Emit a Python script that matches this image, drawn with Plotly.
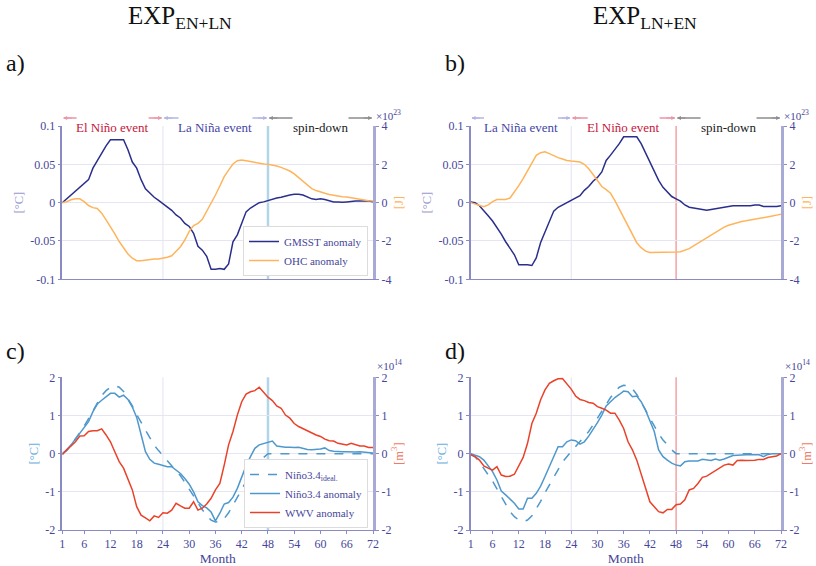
import plotly.graph_objects as go

months = list(range(1, 73))

gmsst_a = [0.0, 0.005, 0.01, 0.015, 0.02, 0.025, 0.03, 0.045, 0.055, 0.064, 0.074, 0.082,
           0.082, 0.082, 0.082, 0.069, 0.053, 0.045, 0.03, 0.018, 0.012, 0.007, 0.003, -0.001,
           -0.005, -0.01, -0.016, -0.02, -0.027, -0.031, -0.04, -0.057, -0.062, -0.07, -0.087, -0.087,
           -0.086, -0.087, -0.08, -0.051, -0.042, -0.027, -0.012, -0.007, -0.003, 0.0, 0.001, 0.003,
           0.004, 0.006, 0.007, 0.009, 0.01, 0.011, 0.011, 0.01, 0.007, 0.005, 0.004, 0.005,
           0.004, 0.003, 0.001, 0.001, 0.0005, 0.001, 0.002, 0.002, 0.002, 0.002, 0.002, 0.001]

ohc_a = [0.0, 0.05, 0.15, 0.2, 0.2, 0.05, -0.15, -0.26, -0.3, -0.55, -0.9, -1.25,
         -1.63, -2.03, -2.38, -2.68, -2.9, -3.03, -3.03, -3.0, -2.96, -2.94, -2.94, -2.9,
         -2.85, -2.77, -2.56, -2.3, -1.95, -1.5, -1.2, -1.08, -0.87, -0.47, -0.03, 0.4,
         0.87, 1.36, 1.7, 2.02, 2.19, 2.23, 2.19, 2.14, 2.09, 2.05, 2.02, 2.0,
         1.97, 1.91, 1.84, 1.76, 1.65, 1.5, 1.3, 1.13, 0.92, 0.73, 0.63, 0.54,
         0.49, 0.43, 0.38, 0.35, 0.31, 0.3, 0.26, 0.23, 0.17, 0.14, 0.1, 0.09]

gmsst_b = [0.001, 0.0, -0.004, -0.01, -0.017, -0.024, -0.032, -0.041, -0.051, -0.059, -0.068, -0.081,
           -0.081, -0.081, -0.082, -0.072, -0.052, -0.039, -0.024, -0.011, -0.006, -0.003, 0.0, 0.004,
           0.006, 0.009, 0.016, 0.021, 0.028, 0.033, 0.04, 0.055, 0.062, 0.069, 0.077, 0.086,
           0.086, 0.086, 0.086, 0.077, 0.065, 0.053, 0.042, 0.029, 0.02, 0.014, 0.008, 0.005,
           0.002, -0.003, -0.006, -0.007, -0.008, -0.009, -0.01, -0.009, -0.008, -0.007, -0.006, -0.005,
           -0.004, -0.004, -0.004, -0.004, -0.004, -0.003, -0.003, -0.005, -0.005, -0.005, -0.005, -0.004]

ohc_b = [0.0, -0.07, -0.16, -0.21, -0.12, 0.05, 0.16, 0.17, 0.17, 0.24, 0.54, 0.89,
         1.25, 1.68, 2.12, 2.47, 2.61, 2.65, 2.56, 2.44, 2.35, 2.28, 2.2, 2.17,
         2.16, 2.12, 2.0, 1.77, 1.47, 1.16, 0.84, 0.68, 0.49, 0.1, -0.33, -0.77,
         -1.21, -1.68, -2.09, -2.35, -2.53, -2.6, -2.6, -2.6, -2.6, -2.6, -2.6, -2.58,
         -2.56, -2.5, -2.4, -2.26, -2.12, -1.98, -1.82, -1.68, -1.54, -1.4, -1.28, -1.18,
         -1.1, -1.04, -0.98, -0.95, -0.91, -0.88, -0.84, -0.81, -0.75, -0.7, -0.65, -0.6]

nino_ideal_c = [0.0, 0.08, 0.22, 0.38, 0.55, 0.72, 0.92, 1.12, 1.35, 1.52, 1.65, 1.74,
                1.78, 1.74, 1.63, 1.45, 1.25, 1.02, 0.82, 0.6, 0.4, 0.22, 0.08, -0.05,
                -0.18, -0.32, -0.45, -0.58, -0.75, -0.93, -1.12, -1.3, -1.47, -1.62, -1.74, -1.79,
                -1.78, -1.7, -1.55, -1.35, -1.15, -0.93, -0.72, -0.52, -0.36, -0.22, -0.1, 0.0,
                0.0, 0.0, 0.0, 0.0, 0.0, 0.0, 0.0, 0.0, 0.0, 0.0, 0.0, 0.0,
                0.0, 0.0, 0.0, 0.0, 0.0, 0.0, 0.0, 0.0, 0.0, 0.0, 0.0, 0.0]

nino_c = [0.0, 0.1, 0.23, 0.38, 0.55, 0.68, 0.84, 1.1, 1.3, 1.4, 1.49, 1.58,
          1.58, 1.48, 1.53, 1.42, 1.22, 0.95, 0.5, 0.05, -0.15, -0.25, -0.28, -0.32,
          -0.34, -0.34, -0.43, -0.52, -0.65, -0.8, -1.0, -1.26, -1.36, -1.42, -1.53, -1.76,
          -1.56, -1.32, -1.28, -1.14, -0.91, -0.6, -0.32, -0.08, 0.14, 0.23, 0.27, 0.31,
          0.33, 0.2, 0.18, 0.17, 0.17, 0.16, 0.17, 0.14, 0.11, 0.1, 0.11, 0.12,
          0.15, 0.08, 0.06, 0.05, 0.05, 0.05, 0.04, 0.04, 0.05, 0.04, 0.03, 0.02]

wwv_c = [-0.03, 0.1, 0.2, 0.31, 0.46, 0.47, 0.58, 0.6, 0.6, 0.65, 0.49, 0.31,
         0.05, -0.21, -0.38, -0.65, -0.95, -1.39, -1.61, -1.68, -1.76, -1.63, -1.67, -1.55,
         -1.56, -1.48, -1.3, -1.37, -1.43, -1.43, -1.26, -1.48, -1.43, -1.32, -1.17, -0.95,
         -0.78, -0.3, 0.23, 0.58, 1.01, 1.36, 1.56, 1.62, 1.65, 1.74, 1.62, 1.48,
         1.39, 1.25, 1.19, 1.01, 0.93, 0.79, 0.71, 0.65, 0.59, 0.55, 0.49, 0.45,
         0.38, 0.34, 0.33, 0.27, 0.25, 0.23, 0.27, 0.23, 0.2, 0.2, 0.16, 0.16]

nino_ideal_d = [0.0, -0.08, -0.22, -0.38, -0.55, -0.72, -0.92, -1.12, -1.35, -1.52, -1.65, -1.74,
                -1.78, -1.74, -1.63, -1.45, -1.25, -1.02, -0.82, -0.6, -0.4, -0.22, -0.08, 0.05,
                0.18, 0.32, 0.45, 0.58, 0.75, 0.93, 1.12, 1.3, 1.47, 1.62, 1.74, 1.79,
                1.78, 1.7, 1.55, 1.35, 1.15, 0.93, 0.72, 0.52, 0.36, 0.22, 0.1, 0.0,
                0.0, 0.0, 0.0, 0.0, 0.0, 0.0, 0.0, 0.0, 0.0, 0.0, 0.0, 0.0,
                0.0, 0.0, 0.0, 0.0, 0.0, 0.0, 0.0, 0.0, 0.0, 0.0, 0.0, 0.0]

nino_d = [0.0, -0.03, -0.08, -0.17, -0.32, -0.47, -0.69, -0.98, -1.08, -1.2, -1.3, -1.45,
          -1.45, -1.17, -1.17, -1.04, -0.85, -0.6, -0.34, -0.08, 0.18, 0.18, 0.31, 0.36,
          0.34, 0.25, 0.31, 0.46, 0.62, 0.81, 1.01, 1.25, 1.36, 1.47, 1.55, 1.64,
          1.62, 1.49, 1.51, 1.36, 1.14, 0.84, 0.58, 0.1, -0.08, -0.17, -0.25, -0.3,
          -0.32, -0.21, -0.19, -0.19, -0.19, -0.15, -0.17, -0.18, -0.14, -0.17, -0.14, -0.1,
          -0.05, -0.04, -0.03, -0.03, -0.03, -0.03, -0.03, -0.08, -0.02, 0.0, 0.0, 0.0]

wwv_d = [-0.03, -0.08, -0.17, -0.32, -0.38, -0.43, -0.34, -0.56, -0.6, -0.59, -0.54, -0.3,
         -0.1, 0.27, 0.79, 1.06, 1.41, 1.67, 1.84, 1.91, 1.96, 1.97, 1.84, 1.69,
         1.51, 1.42, 1.39, 1.34, 1.32, 1.23, 1.19, 1.14, 1.06, 1.06, 0.88, 0.66,
         0.31, 0.1, -0.17, -0.52, -0.86, -1.26, -1.39, -1.52, -1.55, -1.46, -1.46, -1.34,
         -1.32, -1.21, -0.95, -0.91, -0.78, -0.62, -0.59, -0.52, -0.45, -0.36, -0.3, -0.27,
         -0.3, -0.18, -0.17, -0.18, -0.18, -0.17, -0.15, -0.15, -0.1, -0.08, -0.06, 0.0]

month_ticks = [1, 6, 12, 18, 24, 30, 36, 42, 48, 54, 60, 66, 72]
y_top_vals = [-0.1, -0.05, 0, 0.05, 0.1]
y_top_text = ["-0.1", "-0.05", "0", "0.05", "0.1"]
y_top_right_vals = [-4, -2, 0, 2, 4]
y_top_right_text = ["-4", "-2", "0", "2", "4"]
y_bot_vals = [-2, -1, 0, 1, 2]
y_bot_text = ["-2", "-1", "0", "1", "2"]

FONT = "Liberation Serif"
TICKC = "#46469a"
AXLINE = "#8a8ac4"
RAXLINE = "#a9a9d6"
GRID = "#e6e6f3"
C_GMSST = "#2b2f8c"
C_OHC = "#ffb45c"
C_NINO = "#4f98cc"
C_WWV = "#ea4129"

fig = go.Figure()

# panel a
fig.add_trace(go.Scatter(x=months, y=gmsst_a, mode="lines", name="GMSST anomaly",
                         line=dict(color=C_GMSST, width=1.5), xaxis="x", yaxis="y", legend="legend"))
fig.add_trace(go.Scatter(x=months, y=ohc_a, mode="lines", name="OHC anomaly",
                         line=dict(color=C_OHC, width=1.5), xaxis="x", yaxis="y5", legend="legend"))
# panel b
fig.add_trace(go.Scatter(x=months, y=gmsst_b, mode="lines", showlegend=False,
                         line=dict(color=C_GMSST, width=1.5), xaxis="x2", yaxis="y2"))
fig.add_trace(go.Scatter(x=months, y=ohc_b, mode="lines", showlegend=False,
                         line=dict(color=C_OHC, width=1.5), xaxis="x2", yaxis="y6"))
# panel c
fig.add_trace(go.Scatter(x=months, y=nino_ideal_c, mode="lines", name="Niño3.4<sub>ideal.</sub>",
                         line=dict(color=C_NINO, width=1.5, dash="dash"), xaxis="x3", yaxis="y3", legend="legend2"))
fig.add_trace(go.Scatter(x=months, y=nino_c, mode="lines", name="Niño3.4 anomaly",
                         line=dict(color=C_NINO, width=1.5), xaxis="x3", yaxis="y3", legend="legend2"))
fig.add_trace(go.Scatter(x=months, y=wwv_c, mode="lines", name="WWV anomaly",
                         line=dict(color=C_WWV, width=1.5), xaxis="x3", yaxis="y7", legend="legend2"))
# panel d
fig.add_trace(go.Scatter(x=months, y=nino_ideal_d, mode="lines", showlegend=False,
                         line=dict(color=C_NINO, width=1.5, dash="dash"), xaxis="x4", yaxis="y4"))
fig.add_trace(go.Scatter(x=months, y=nino_d, mode="lines", showlegend=False,
                         line=dict(color=C_NINO, width=1.5), xaxis="x4", yaxis="y4"))
fig.add_trace(go.Scatter(x=months, y=wwv_d, mode="lines", showlegend=False,
                         line=dict(color=C_WWV, width=1.5), xaxis="x4", yaxis="y8"))

PW = 816.0
PH = 566.0
XL = [62.3 / PW, 373 / PW]
XR = [470.7 / PW, 781 / PW]
YT = [1 - 279.3 / PH, 1 - 126 / PH]
YB = [1 - 530 / PH, 1 - 377.3 / PH]
MONTH_PX = (373 - 62.3) / 71.0

tickfont = dict(family=FONT, size=12, color=TICKC)


def xax(domain, anchor, labels):
    d = dict(domain=domain, anchor=anchor, range=[1, 72], showgrid=False, zeroline=False,
             showline=True, linecolor=AXLINE, linewidth=1, tickfont=tickfont, automargin=False)
    if labels:
        d.update(tickvals=month_ticks, ticktext=[str(m) for m in month_ticks], ticks="outside",
                 ticklen=3, tickcolor=AXLINE,
                 title=dict(text="Month", font=dict(family=FONT, size=13.5, color=TICKC), standoff=2))
    else:
        d.update(showticklabels=False, ticks="")
    return d


def yleft(domain, anchor, rng, vals, text, title, tcolor):
    return dict(domain=domain, anchor=anchor, range=rng, tickvals=vals, ticktext=text,
                showgrid=True, gridcolor=GRID, gridwidth=1, zeroline=False, showline=True,
                linecolor=AXLINE, linewidth=1.5, ticks="outside", ticklen=3, tickcolor=AXLINE,
                tickfont=tickfont, automargin=False,
                title=dict(text=title, font=dict(family=FONT, size=12.5, color=tcolor), standoff=4))


def yright(overlay, anchor, rng, vals, text, title, tcolor):
    return dict(overlaying=overlay, anchor=anchor, side="right", range=rng, tickvals=vals,
                ticktext=text, showgrid=False, zeroline=False, showline=True, linecolor=RAXLINE,
                linewidth=3, ticks="outside", ticklen=3, tickcolor=AXLINE, tickfont=tickfont,
                automargin=False,
                title=dict(text=title, font=dict(family=FONT, size=12.5, color=tcolor), standoff=4))


layout = dict(
    width=816, height=566, margin=dict(l=0, r=0, t=0, b=0, autoexpand=False),
    paper_bgcolor="white", plot_bgcolor="white",
    font=dict(family=FONT, color=TICKC),
    xaxis=xax(XL, "y", False),
    xaxis2=xax(XR, "y2", False),
    xaxis3=xax(XL, "y3", True),
    xaxis4=xax(XR, "y4", True),
    yaxis=yleft(YT, "x", [-0.1, 0.1], y_top_vals, y_top_text, "[°C]", "#9a9ad0"),
    yaxis2=yleft(YT, "x2", [-0.1, 0.1], y_top_vals, y_top_text, "[°C]", "#9a9ad0"),
    yaxis3=yleft(YB, "x3", [-2, 2], y_bot_vals, y_bot_text, "[°C]", "#6aaede"),
    yaxis4=yleft(YB, "x4", [-2, 2], y_bot_vals, y_bot_text, "[°C]", "#6aaede"),
    yaxis5=yright("y", "x", [-4, 4], y_top_right_vals, y_top_right_text, "[J]", "#ffb45c"),
    yaxis6=yright("y2", "x2", [-4, 4], y_top_right_vals, y_top_right_text, "[J]", "#ffb45c"),
    yaxis7=yright("y3", "x3", [-2, 2], y_bot_vals, y_bot_text, "[m<sup>3</sup>]", "#f07a66"),
    yaxis8=yright("y4", "x4", [-2, 2], y_bot_vals, y_bot_text, "[m<sup>3</sup>]", "#f07a66"),
    legend=dict(x=368 / PW, y=1 - 276 / PH, xanchor="right", yanchor="bottom",
                bgcolor="white", bordercolor="#dcdcdc", borderwidth=1, itemwidth=30,
                font=dict(family=FONT, size=11, color=TICKC), tracegroupgap=0),
    legend2=dict(x=368 / PW, y=1 - 528 / PH, xanchor="right", yanchor="bottom",
                 bgcolor="white", bordercolor="#dcdcdc", borderwidth=1, itemwidth=30,
                 font=dict(family=FONT, size=11, color=TICKC), tracegroupgap=0),
)
fig.update_layout(**layout)

shapes = []
annotations = []

# vertical marker lines
for xr, yr, col48, w48 in [("x", "y", "#b2d6e8", 2.5), ("x2", "y2", "#f3a3a3", 1.5),
                           ("x3", "y3", "#b2d6e8", 2.5), ("x4", "y4", "#f3a3a3", 1.5)]:
    shapes.append(dict(type="line", xref=xr, yref=yr + " domain", x0=24, x1=24, y0=0, y1=1,
                       line=dict(color="#e2e2f2", width=1), layer="below"))
    shapes.append(dict(type="line", xref=xr, yref=yr + " domain", x0=48, x1=48, y0=0, y1=1,
                       line=dict(color=col48, width=w48), layer="below"))

# header phases (start, end, label, text colour, line colour, half text width in px)
YH = 1 - 118 / PH
header_a = [(1, 24, "El Niño event", "#c4163c", "#eb95a8", 36),
            (24, 48, "La Niña event", "#4545a5", "#b4b4e2", 37),
            (48, 72, "spin-down", "#1a1a1a", "#8c8c8c", 28)]
header_b = [(1, 24, "La Niña event", "#4545a5", "#b4b4e2", 37),
            (24, 48, "El Niño event", "#c4163c", "#eb95a8", 36),
            (48, 72, "spin-down", "#1a1a1a", "#8c8c8c", 28)]
for xr, segs in [("x", header_a), ("x2", header_b)]:
    for x0, x1, label, tc, lc, half in segs:
        xc = (x0 + x1) / 2
        gap = half / MONTH_PX
        shapes.append(dict(type="line", xref=xr, yref="paper", x0=x0 + 0.3, x1=xc - gap,
                           y0=YH, y1=YH, line=dict(color=lc, width=1.5)))
        shapes.append(dict(type="line", xref=xr, yref="paper", x0=xc + gap, x1=x1 - 0.3,
                           y0=YH, y1=YH, line=dict(color=lc, width=1.5)))
        annotations.append(dict(xref=xr, yref="paper", x=xc, y=YH, text=label,
                                showarrow=False, font=dict(family=FONT, size=13, color=tc)))
        annotations.append(dict(xref=xr, yref="paper", x=x1 - 0.2, y=YH, ax=x1 - 2.5, ay=0,
                                axref=xr, ayref="pixel", text="", showarrow=True,
                                arrowhead=2, arrowsize=0.8, arrowwidth=1, arrowcolor=lc))
        annotations.append(dict(xref=xr, yref="paper", x=x0 + 0.2, y=YH, ax=x0 + 2.5, ay=0,
                                axref=xr, ayref="pixel", text="", showarrow=True,
                                arrowhead=2, arrowsize=0.8, arrowwidth=1, arrowcolor=lc))

# exponent labels
for xpx, ypx, txt in [(374, 115, "×10<sup>23</sup>"), (782, 115, "×10<sup>23</sup>"),
                      (375, 365, "×10<sup>14</sup>"), (783, 365, "×10<sup>14</sup>")]:
    annotations.append(dict(xref="paper", yref="paper", x=xpx / PW, y=1 - ypx / PH,
                            xanchor="left", yanchor="middle", text=txt, showarrow=False,
                            font=dict(family=FONT, size=11, color=TICKC)))

# titles and panel letters
annotations.append(dict(xref="paper", yref="paper", x=180 / PW, y=1.0,
                        xanchor="center", yanchor="top",
                        text="EXP<sub>EN+LN</sub>", showarrow=False,
                        font=dict(family=FONT, size=25, color="#111")))
annotations.append(dict(xref="paper", yref="paper", x=645 / PW, y=1.0,
                        xanchor="center", yanchor="top",
                        text="EXP<sub>LN+EN</sub>", showarrow=False,
                        font=dict(family=FONT, size=25, color="#111")))
for xpx, ypx, txt in [(4, 63, "a)"), (443, 63, "b)"), (4, 351, "c)"), (443, 351, "d)")]:
    annotations.append(dict(xref="paper", yref="paper", x=xpx / PW, y=1 - ypx / PH,
                            xanchor="left", yanchor="middle", text=txt, showarrow=False,
                            font=dict(family=FONT, size=24, color="#111")))

fig.update_layout(shapes=shapes, annotations=annotations)
fig.write_html("out.html", config={"displayModeBar": False},
               post_script="document.body.style.margin='0';document.body.style.overflow='hidden';")
